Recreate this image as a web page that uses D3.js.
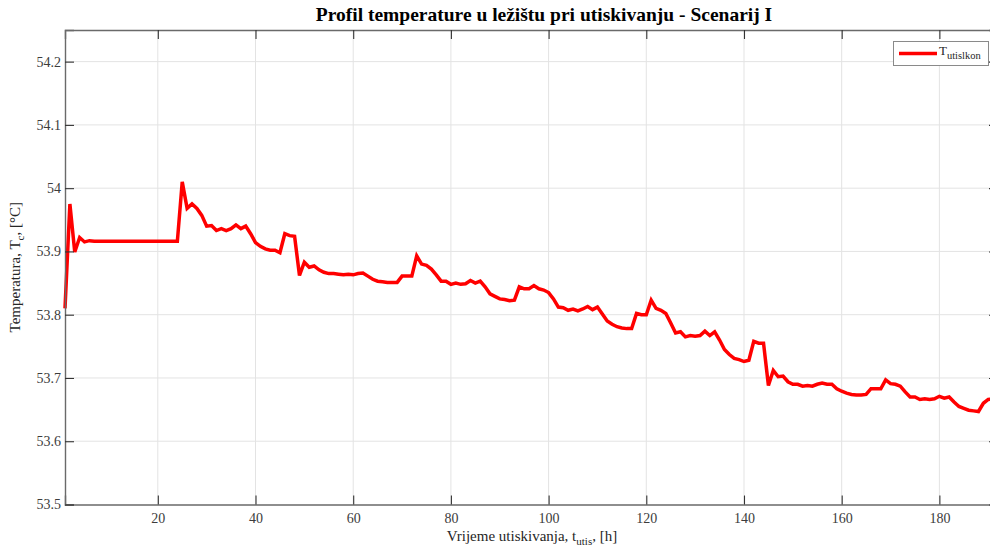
<!DOCTYPE html>
<html>
<head>
<meta charset="utf-8">
<script src="https://cdn.jsdelivr.net/npm/d3@7"></script>
<style>
  html, body { margin: 0; padding: 0; background: #ffffff; overflow: hidden; }
  svg { display: block; }
  text { font-family: "Liberation Serif", "Times New Roman", serif; }
</style>
</head>
<body>
<svg id="chart" width="990" height="552"></svg>
<script>
// Injection time, hours (one reading per hour)
const hours = d3.range(1, 192);

// Reservoir temperature during injection, °C
const temperature = [
  53.810, 53.975, 53.899, 53.922, 53.915, 53.917, 53.916, 53.916, 53.916, 53.916,
  53.916, 53.916, 53.916, 53.916, 53.916, 53.916, 53.916, 53.916, 53.916, 53.916,
  53.916, 53.916, 53.916, 53.916, 54.010, 53.968, 53.975, 53.968, 53.957, 53.940,
  53.941, 53.933, 53.936, 53.933, 53.936, 53.942, 53.936, 53.940, 53.928, 53.914,
  53.908, 53.904, 53.902, 53.902, 53.898, 53.928, 53.925, 53.924, 53.862, 53.883,
  53.875, 53.877, 53.871, 53.867, 53.865, 53.865, 53.864, 53.863, 53.864, 53.863,
  53.865, 53.866, 53.861, 53.856, 53.853, 53.852, 53.851, 53.851, 53.851, 53.861,
  53.861, 53.861, 53.893, 53.880, 53.878, 53.872, 53.863, 53.853, 53.853, 53.848,
  53.850, 53.848, 53.849, 53.854, 53.850, 53.853, 53.844, 53.833, 53.829, 53.825,
  53.824, 53.822, 53.823, 53.844, 53.841, 53.841, 53.846, 53.841, 53.839, 53.835,
  53.825, 53.812, 53.811, 53.807, 53.809, 53.806, 53.809, 53.813, 53.808, 53.812,
  53.801, 53.790, 53.785, 53.781, 53.779, 53.778, 53.778, 53.802, 53.800, 53.800,
  53.823, 53.810, 53.807, 53.802, 53.787, 53.771, 53.773, 53.765, 53.767, 53.766,
  53.767, 53.774, 53.767, 53.773, 53.760, 53.745, 53.737, 53.731, 53.729, 53.726,
  53.728, 53.758, 53.755, 53.755, 53.688, 53.712, 53.702, 53.703, 53.694, 53.690,
  53.690, 53.687, 53.688, 53.687, 53.690, 53.692, 53.690, 53.690, 53.683, 53.679,
  53.676, 53.674, 53.673, 53.673, 53.674, 53.683, 53.683, 53.683, 53.697, 53.691,
  53.690, 53.687, 53.678, 53.670, 53.670, 53.666, 53.667, 53.666, 53.667, 53.671,
  53.668, 53.670, 53.662, 53.655, 53.652, 53.649, 53.648, 53.647, 53.660, 53.666,
  53.667
];

const xTicks = [20, 40, 60, 80, 100, 120, 140, 160, 180];
const yTicks = [53.5, 53.6, 53.7, 53.8, 53.9, 54.0, 54.1, 54.2];
const yTickLabels = ["53.5", "53.6", "53.7", "53.8", "53.9", "54", "54.1", "54.2"];

const titleText = "Profil temperature u ležištu pri utiskivanju - Scenarij I";
const seriesName = "utislkon";

const serif = "'Liberation Serif', 'Times New Roman', serif";
const svg = d3.select("#chart");
const plot = { left: 65, right: 998, top: 30, bottom: 504.5 };

const x = d3.scaleLinear().domain([1, 192]).range([plot.left, plot.right]);
const y = d3.scaleLinear().domain([53.5, 54.25]).range([plot.bottom, plot.top]);

const axisColor = "#6a6a6a";
const gridColor = "#e3e3e3";
const tickLen = 9;

// Grid
const grid = svg.append("g");
grid.selectAll("line.gx").data(xTicks).join("line")
  .attr("x1", d => x(d)).attr("x2", d => x(d))
  .attr("y1", plot.top).attr("y2", plot.bottom)
  .attr("stroke", gridColor).attr("stroke-width", 1);
grid.selectAll("line.gy").data(yTicks.slice(1)).join("line")
  .attr("x1", plot.left).attr("x2", plot.right)
  .attr("y1", d => y(d)).attr("y2", d => y(d))
  .attr("stroke", gridColor).attr("stroke-width", 1);

// Data line
const line = d3.line()
  .x((d, i) => x(hours[i]))
  .y(d => y(d));

svg.append("path")
  .datum(temperature)
  .attr("d", line)
  .attr("fill", "none")
  .attr("stroke", "#ff0000")
  .attr("stroke-width", 3.5)
  .attr("stroke-linejoin", "miter")
  .attr("stroke-miterlimit", 3);

// Axes, MATLAB style: inward ticks on all sides
const xAxisB = d3.axisBottom(x).tickValues(xTicks).tickSize(-tickLen).tickPadding(9).tickFormat(d3.format("d"));
const xAxisT = d3.axisTop(x).tickValues(xTicks).tickSize(-tickLen).tickFormat("");
const yAxisL = d3.axisLeft(y).tickValues(yTicks).tickSize(-tickLen).tickPadding(4).tickFormat((d, i) => yTickLabels[i]);
const yAxisR = d3.axisRight(y).tickValues(yTicks).tickSize(-tickLen).tickFormat("");

function styleAxis(g) {
  g.attr("font-family", serif).attr("font-size", 14);
  g.select(".domain").attr("stroke", axisColor).attr("stroke-width", 1.4);
  g.selectAll(".tick line").attr("stroke", "#333").attr("stroke-width", 1.1);
  g.selectAll(".tick text")
    .attr("fill", "#3c3c3c")
    .attr("font-family", serif)
    .attr("font-size", 14);
}

svg.append("g").attr("transform", `translate(0,${plot.top})`).call(xAxisT).call(styleAxis);
svg.append("g").attr("transform", `translate(${plot.right},0)`).call(yAxisR).call(styleAxis);
svg.append("g").attr("transform", `translate(0,${plot.bottom})`).call(xAxisB).call(styleAxis);
svg.append("g").attr("transform", `translate(${plot.left},0)`).call(yAxisL).call(styleAxis);

// Title
svg.append("text")
  .attr("x", 544).attr("y", 21)
  .attr("text-anchor", "middle")
  .attr("font-family", serif)
  .style("font-size", "19.5px").style("font-weight", "bold")
  .attr("fill", "#000")
  .text(titleText);

// X-axis label
const xl = svg.append("text")
  .attr("x", 532).attr("y", 541)
  .attr("text-anchor", "middle")
  .attr("font-family", serif)
  .style("font-size", "15px")
  .attr("fill", "#262626");
xl.append("tspan").text("Vrijeme utiskivanja, t");
xl.append("tspan").attr("dy", 4).style("font-size", "11px").text("utis");
xl.append("tspan").attr("dy", -4).text(", [h]");

// Y-axis label
const yl = svg.append("text")
  .attr("transform", `translate(20,${(plot.top + plot.bottom) / 2}) rotate(-90)`)
  .attr("text-anchor", "middle")
  .attr("font-family", serif)
  .style("font-size", "15px")
  .attr("fill", "#262626");
yl.append("tspan").text("Temperatura, T");
yl.append("tspan").attr("dy", 4).style("font-size", "11px").text("c");
yl.append("tspan").attr("dy", -4).text(", [°C]");

// Legend
const lg = svg.append("g");
lg.append("rect")
  .attr("x", 893.5).attr("y", 41.5).attr("width", 95).attr("height", 24)
  .attr("fill", "#fff").attr("stroke", "#8a8a8a").attr("stroke-width", 1);
lg.append("line")
  .attr("x1", 899).attr("x2", 937).attr("y1", 53.5).attr("y2", 53.5)
  .attr("stroke", "#ff0000").attr("stroke-width", 3.5);
const lt = lg.append("text")
  .attr("x", 939).attr("y", 55)
  .attr("font-family", serif)
  .style("font-size", "13px").attr("fill", "#262626");
lt.append("tspan").text("T");
lt.append("tspan").attr("dy", 4).style("font-size", "10.5px").text(seriesName);
</script>
</body>
</html>
